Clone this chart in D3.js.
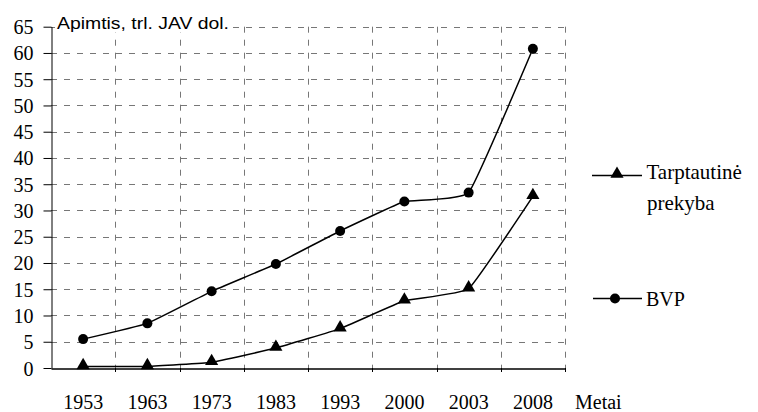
<!DOCTYPE html>
<html>
<head>
<meta charset="utf-8">
<script src="https://cdn.jsdelivr.net/npm/d3@7"></script>
<style>
body{margin:0;background:#fff;}
svg{display:block;}
</style>
</head>
<body>
<div id="chart"></div>
<script>
var years = ["1953","1963","1973","1983","1993","2000","2003","2008"];
var bvp = [5.5, 8.5, 14.6, 19.8, 26.1, 31.7, 33.4, 60.8];
var prekyba = [0.3, 0.3, 1.1, 3.8, 7.5, 12.8, 15.1, 32.7];
var yTicks = [0,5,10,15,20,25,30,35,40,45,50,55,60,65];

var width = 758, height = 412;
var plotL = 51, plotR = 565, plotT = 26.7, plotB = 368;

var svg = d3.select("#chart")
	.append("svg")
	.attr("width", width)
	.attr("height", height)
	.attr("font-family", "Liberation Serif")
	.attr("font-size", "20px");

var x = d3.scaleBand().domain(years).range([plotL, plotR]);
var y = d3.scaleLinear().domain([0, 65]).range([plotB, plotT]);

// grid
var grid = svg.append("g").attr("stroke","#777").attr("stroke-width",1).attr("stroke-dasharray","6,7");
grid.selectAll("line.h").data(yTicks.slice(1)).enter().append("line")
	.attr("x1",plotL).attr("x2",plotR)
	.attr("y1",function(d){return Math.round(y(d))+0.5;})
	.attr("y2",function(d){return Math.round(y(d))+0.5;});
grid.selectAll("line.v").data(years).enter().append("line")
	.attr("x1",function(d){return Math.round(x(d)+x.bandwidth())+0.5;})
	.attr("x2",function(d){return Math.round(x(d)+x.bandwidth())+0.5;})
	.attr("y1",plotT).attr("y2",plotB);

// title with white background
var title = svg.append("text")
	.attr("x",57).attr("y",28.5)
	.attr("font-family","Liberation Sans").attr("font-size","17px")
	.attr("textLength",172).attr("lengthAdjust","spacingAndGlyphs")
	.text("Apimtis, trl. JAV dol.");
var bb = title.node().getBBox();
svg.insert("rect","text").attr("x",bb.x-2).attr("y",bb.y).attr("width",bb.width+6).attr("height",bb.height).attr("fill","#fff");

// y axis
var yAxis = svg.append("g")
	.attr("transform","translate("+(plotL+0.5)+",0)")
	.call(d3.axisLeft(y).tickValues(yTicks).tickSize(8).tickSizeOuter(0));
yAxis.attr("font-family","Liberation Serif").attr("font-size","20px");
yAxis.select(".domain").attr("stroke","#000");
yAxis.selectAll(".tick line").attr("stroke","#000");
yAxis.selectAll(".tick text").attr("font-family","Liberation Serif").attr("fill","#000")
	.attr("x",-18).attr("dy",null).attr("y",7);

// x axis
var xAxis = svg.append("g")
	.attr("transform","translate(0,"+(plotB+0.5)+")")
	.call(d3.axisBottom(x).tickSize(0).tickSizeOuter(0));
xAxis.attr("font-family","Liberation Serif").attr("font-size","20px");
xAxis.select(".domain").attr("stroke","#000").attr("stroke-width",1.5);
xAxis.selectAll(".tick text").attr("font-family","Liberation Serif").attr("fill","#000")
	.attr("y",40).attr("dy",null);
svg.append("g").selectAll("line").data(years).enter().append("line")
	.attr("x1",function(d){return Math.round(x(d)+x.bandwidth())+0.5;})
	.attr("x2",function(d){return Math.round(x(d)+x.bandwidth())+0.5;})
	.attr("y1",plotB).attr("y2",plotB+4).attr("stroke","#000");

svg.append("text").attr("font-family","Liberation Serif")
	.attr("x",575).attr("y",408.5)
	.text("Metai");

// lines
var line = d3.line()
	.x(function(d,i){return x(years[i])+x.bandwidth()/2;})
	.y(function(d){return y(d);})
	.curve(d3.curveCardinal.tension(0.7));

svg.append("path").datum(bvp).attr("d",line).attr("fill","none").attr("stroke","#000").attr("stroke-width",1.5);
svg.append("path").datum(prekyba).attr("d",line).attr("fill","none").attr("stroke","#000").attr("stroke-width",1.5);

var tri = d3.symbol().type(d3.symbolTriangle).size(75);

svg.append("g").selectAll("circle").data(bvp).enter().append("circle")
	.attr("cx",function(d,i){return x(years[i])+x.bandwidth()/2;})
	.attr("cy",function(d){return y(d);})
	.attr("r",5).attr("fill","#000");

svg.append("g").selectAll("path").data(prekyba).enter().append("path")
	.attr("d",tri)
	.attr("transform",function(d,i){return "translate("+(x(years[i])+x.bandwidth()/2)+","+(y(d)-1)+")";})
	.attr("fill","#000");

// legend
var legend = svg.append("g").attr("font-family","Liberation Serif").attr("font-size","21px");
legend.append("line").attr("x1",592).attr("x2",642).attr("y1",175.5).attr("y2",175.5).attr("stroke","#000").attr("stroke-width",1.5);
legend.append("path").attr("d",tri).attr("transform","translate(617,174)").attr("fill","#000");
legend.append("text").attr("font-family","Liberation Serif").attr("x",646.5).attr("y",178.5).text("Tarptautinė");
legend.append("text").attr("font-family","Liberation Serif").attr("x",647).attr("y",210).text("prekyba");

legend.append("line").attr("x1",593).attr("x2",642).attr("y1",298.5).attr("y2",298.5).attr("stroke","#000").attr("stroke-width",1.5);
legend.append("circle").attr("cx",615).attr("cy",298.5).attr("r",5).attr("fill","#000");
legend.append("text").attr("font-family","Liberation Serif").attr("font-size","20px").attr("x",646).attr("y",305.5).text("BVP");
</script>
</body>
</html>
